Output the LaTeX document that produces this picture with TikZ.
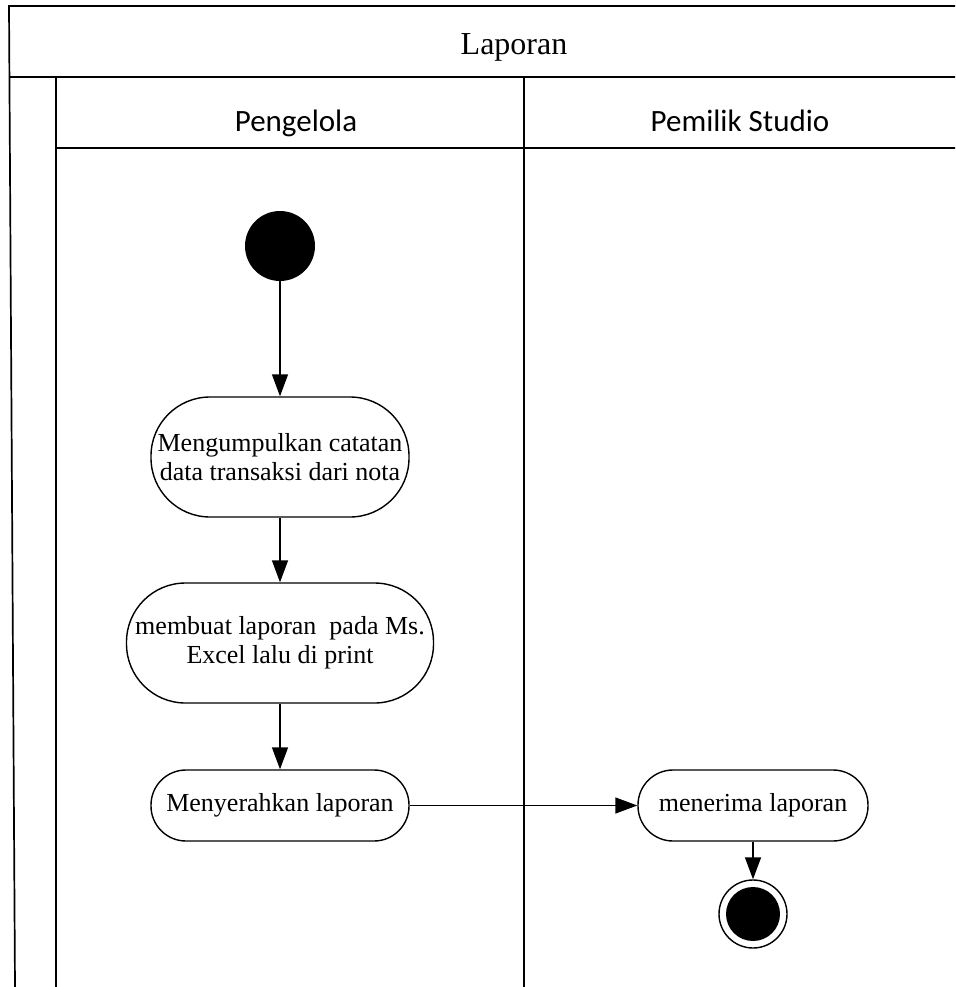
\documentclass[tikz,border=0pt]{standalone}
\usepackage{fontspec}
\setmainfont{Liberation Serif}
\newfontfamily\lanefont{Carlito}
\usetikzlibrary{arrows.meta}
\begin{document}
\begin{tikzpicture}[x=1pt,y=-1pt,
  frame/.style={line width=1.7pt},
  activity/.style={draw, rectangle, line width=1.4pt, inner sep=0pt, align=center,
    font=\fontsize{26}{29}\selectfont},
  flow/.style={line width=1.4pt, -{Triangle[length=22pt,width=16pt]}},
  lanetitle/.style={anchor=base, inner sep=0pt, font=\lanefont\fontsize{31}{36}\selectfont},
  pooltitle/.style={anchor=base, inner sep=0pt, font=\fontsize{32}{38}\selectfont},
]
\useasboundingbox (0,0) rectangle (955,987);
\clip (0,0) rectangle (955,987);

% pool and swimlane frame
\draw[frame] (15,987) -- (9,6) -- (970,6);
\draw[frame] (9,77) -- (970,77);
\draw[frame] (56,148) -- (970,148);
\draw[frame] (56,77) -- (56,987);
\draw[frame] (524,77) -- (524,987);

\node[pooltitle] (pool) at (514,55) {Laporan};
\node[lanetitle] (laneA) at (296,132) {Pengelola};
\node[lanetitle] (laneB) at (740,132) {Pemilik Studio};

% activities
\node[circle, fill=black, inner sep=0pt, minimum size=70pt] (start) at (280,246) {};
\node[activity, minimum width=258pt, minimum height=120pt, rounded corners=59pt]
  (collect) at (280,457) {Mengumpulkan catatan\\data transaksi dari nota};
\node[activity, minimum width=307pt, minimum height=120pt, rounded corners=59pt]
  (report) at (280,643) {membuat laporan~~pada Ms.\\Excel lalu di print};
\node[activity, minimum width=258pt, minimum height=71pt, rounded corners=35pt]
  (handover) at (280,805.5) {Menyerahkan laporan};
\node[activity, minimum width=230pt, minimum height=71pt, rounded corners=35pt]
  (receive) at (753,805.5) {menerima laporan};
\node[circle, draw, line width=1.4pt, inner sep=0pt, minimum size=68pt] (finish) at (753,914) {};
\node[circle, fill=black, inner sep=0pt, minimum size=54pt] (finishdot) at (finish) {};

% control flow
\draw[flow] (start) -- (collect);
\draw[flow] (collect) -- (report);
\draw[flow] (report) -- (handover);
\draw[flow] (handover) -- (receive);
\draw[flow] (receive) -- (finish);
\end{tikzpicture}
\end{document}
